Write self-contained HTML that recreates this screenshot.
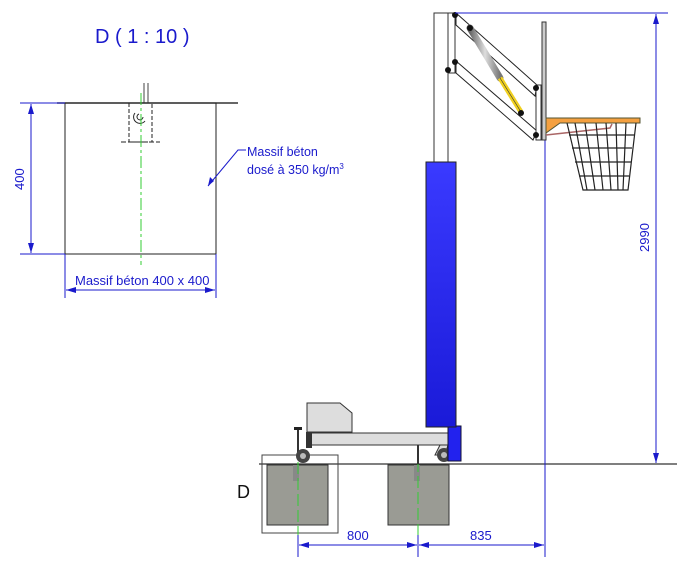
<!DOCTYPE html>
<html><head><meta charset="utf-8"><style>
html,body{margin:0;padding:0;background:#fff;}
svg{display:block;font-family:"Liberation Sans",sans-serif;}
</style></head><body>
<svg width="677" height="571" viewBox="0 0 677 571" xmlns="http://www.w3.org/2000/svg">
<defs>
<marker id="a" markerWidth="10" markerHeight="6" refX="10" refY="3" orient="auto-start-reverse" markerUnits="userSpaceOnUse"><path d="M0,0 L10,3 L0,6z" fill="#1a1acc"/></marker>
<linearGradient id="bl" x1="0" y1="0" x2="0" y2="1"><stop offset="0" stop-color="#3a3aff"/><stop offset="1" stop-color="#1a1ad8"/></linearGradient>
<linearGradient id="gr" x1="0" y1="0" x2="1" y2="0"><stop offset="0" stop-color="#666"/><stop offset=".5" stop-color="#ddd"/><stop offset="1" stop-color="#777"/></linearGradient>
</defs>
<!-- Detail D -->
<text x="95" y="43" font-size="20" fill="#1a1acc">D ( 1 : 10 )</text>
<line x1="57" y1="103" x2="238" y2="103" stroke="#333" stroke-width="1.5"/>
<rect x="65" y="103" width="151" height="151" fill="none" stroke="#222" stroke-width="1"/>
<line x1="144" y1="83" x2="144" y2="103" stroke="#444"/><line x1="148" y1="83" x2="148" y2="103" stroke="#444"/>
<rect x="129" y="103" width="23" height="39" fill="none" stroke="#222" stroke-dasharray="4,2"/>
<line x1="121" y1="142" x2="160" y2="142" stroke="#222" stroke-dasharray="5,2"/>
<path d="M135,113 a5,5 0 0 0 10,8 M139,114 a3,3 0 1 0 4,3" fill="none" stroke="#222"/>
<line x1="141" y1="93" x2="141" y2="265" stroke="#3c3" stroke-dasharray="12,3,3,3"/>
<line x1="20" y1="103" x2="65" y2="103" stroke="#1a1acc"/>
<line x1="20" y1="254" x2="65" y2="254" stroke="#1a1acc"/>
<line x1="31" y1="104" x2="31" y2="253" stroke="#1a1acc" marker-start="url(#a)" marker-end="url(#a)"/>
<text x="0" y="0" font-size="13" fill="#1a1acc" transform="translate(24,190) rotate(-90)">400</text>
<line x1="65" y1="254" x2="65" y2="298" stroke="#1a1acc"/><line x1="216" y1="254" x2="216" y2="298" stroke="#1a1acc"/>
<line x1="66" y1="290" x2="215" y2="290" stroke="#1a1acc" marker-start="url(#a)" marker-end="url(#a)"/>
<text x="75" y="285" font-size="13" fill="#1a1acc">Massif béton 400 x 400</text>
<polyline points="208,186 238,150 246,150" fill="none" stroke="#1a1acc"/>
<path d="M208,186 l2,-9 l4,4z" fill="#1a1acc"/>
<text x="247" y="156" font-size="12.5" fill="#1a1acc">Massif béton</text>
<text x="247" y="174" font-size="12.5" fill="#1a1acc">dosé à 350 kg/m<tspan font-size="8" dy="-5">3</tspan></text>
<!-- ground -->
<line x1="259" y1="464" x2="677" y2="464" stroke="#333" stroke-width="1.2"/>
<!-- blocks -->
<rect x="262" y="455" width="76" height="78" fill="none" stroke="#444"/>
<rect x="267" y="465" width="61" height="60" fill="#9a9b94" stroke="#333"/>
<rect x="388" y="465" width="61" height="60" fill="#9a9b94" stroke="#333"/>
<rect x="293" y="465" width="6" height="16" fill="#888"/><rect x="414" y="465" width="6" height="16" fill="#888"/>
<line x1="298" y1="462" x2="298" y2="545" stroke="#3c3" stroke-dasharray="12,4"/>
<line x1="418" y1="460" x2="418" y2="545" stroke="#3c3" stroke-dasharray="12,4"/>
<text x="237" y="498" font-size="18" fill="#111">D</text>
<!-- bottom dims -->
<line x1="298" y1="535" x2="298" y2="557" stroke="#1a1acc"/><line x1="418" y1="535" x2="418" y2="557" stroke="#1a1acc"/>
<line x1="299" y1="545" x2="417" y2="545" stroke="#1a1acc" marker-start="url(#a)" marker-end="url(#a)"/>
<line x1="419" y1="545" x2="544" y2="545" stroke="#1a1acc" marker-start="url(#a)" marker-end="url(#a)"/>
<text x="347" y="540" font-size="13" fill="#1a1acc">800</text>
<text x="470" y="540" font-size="13" fill="#1a1acc">835</text>
<line x1="545" y1="128" x2="545" y2="557" stroke="#1a1acc"/>
<!-- base -->
<path d="M307,403 L340,403 L352,413 L352,432 L307,432z" fill="#ddd" stroke="#333"/>
<rect x="310" y="433" width="140" height="12" fill="#ddd" stroke="#333"/>
<rect x="306" y="432" width="6" height="16" fill="#333"/>
<line x1="298" y1="428" x2="298" y2="455" stroke="#333" stroke-width="2"/>
<rect x="294" y="427" width="8" height="3" fill="#222"/>
<line x1="418" y1="445" x2="418" y2="464" stroke="#333" stroke-width="2"/>
<path d="M440,445 L435,455 L445,455 L448,445z" fill="#ddd" stroke="#333"/>
<circle cx="303" cy="456" r="7" fill="#444"/><circle cx="303" cy="456" r="3" fill="#bbb"/>
<circle cx="444" cy="455" r="7" fill="#444"/><circle cx="444" cy="455" r="3" fill="#bbb"/>
<rect x="448" y="426" width="13" height="35" fill="#2222ee" stroke="#113"/>
<!-- pole -->
<rect x="434" y="13" width="14" height="149" fill="#fff" stroke="#333"/>
<rect x="426" y="162" width="30" height="265" fill="url(#bl)" stroke="#222"/>
<!-- arms -->
<rect x="448" y="13" width="7" height="60" fill="#fff" stroke="#333"/>
<path d="M456,13 L537,85 L535,96 L456,25z" fill="#fff" stroke="#222"/>
<path d="M456,61 L537,131 L533,140 L456,73z" fill="#fff" stroke="#222"/>
<rect x="536" y="85" width="5" height="55" fill="#fff" stroke="#333"/>
<line x1="470" y1="28" x2="500" y2="78" stroke="url(#gr)" stroke-width="7" stroke-linecap="round"/>
<line x1="500" y1="78" x2="521" y2="112" stroke="#f0d020" stroke-width="5"/>
<line x1="500" y1="78" x2="521" y2="112" stroke="#333" stroke-width=".6"/>
<g fill="#111"><circle cx="455" cy="15" r="3"/><circle cx="470" cy="28" r="3"/><circle cx="455" cy="62" r="3"/><circle cx="536" cy="88" r="3"/><circle cx="521" cy="113" r="3"/><circle cx="536" cy="135" r="3"/><circle cx="448" cy="70" r="3"/></g>
<rect x="542" y="22" width="4" height="118" fill="#ccc" stroke="#333"/>
<!-- rim & net -->
<path d="M546,118 L640,118 L640,123 L560,123 L546,133z" fill="#f4a040" stroke="#553"/>
<path d="M546,135 L610,128 L612,124" fill="none" stroke="#a66" stroke-width="1.5"/>
<g fill="none" stroke="#222" stroke-width="1.2">
<path d="M567,123 L583,190 L628,190 L636,123"/>
<path d="M575,123 L587,190 M585,123 L595,190 M596,123 L603,190 M606,123 L611,190 M616,123 L618,190 M626,123 L623,190"/>
<path d="M569,135 L634,135 M572,148 L632,148 M575,162 L631,162 M579,176 L629,176"/>
</g>
<!-- height dim -->
<line x1="455" y1="13" x2="668" y2="13" stroke="#1a1acc"/>
<line x1="656" y1="14" x2="656" y2="463" stroke="#1a1acc" marker-start="url(#a)" marker-end="url(#a)"/>
<text x="0" y="0" font-size="13" fill="#1a1acc" transform="translate(649,252) rotate(-90)">2990</text>
</svg>
</body></html>
